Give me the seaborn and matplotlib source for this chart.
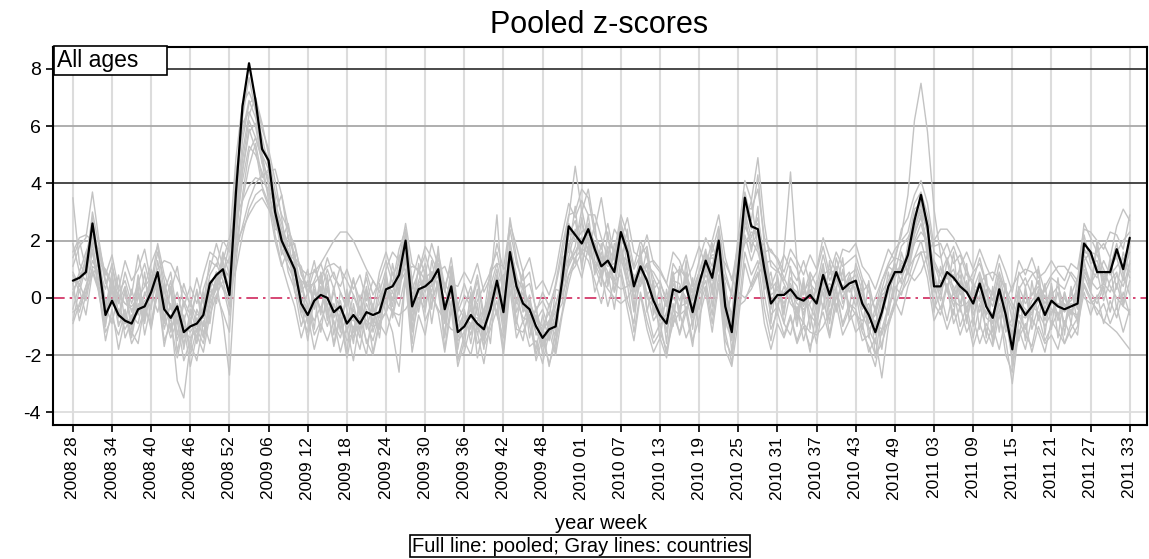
import numpy as np
import pandas as pd
import seaborn as sns
import matplotlib.pyplot as plt

# labels every 6 weeks, 2008 week 28 .. 2011 week 33 (163 weeks)
tick_labels = ['2008 28', '2008 34', '2008 40', '2008 46', '2008 52',
               '2009 06', '2009 12', '2009 18', '2009 24', '2009 30', '2009 36', '2009 42', '2009 48',
               '2010 01', '2010 07', '2010 13', '2010 19', '2010 25', '2010 31', '2010 37', '2010 43', '2010 49',
               '2011 03', '2011 09', '2011 15', '2011 21', '2011 27', '2011 33']

pooled = [0.6, 0.7, 0.9, 2.6, 1.1, -0.6, -0.1, -0.6, -0.8, -0.9,
          -0.4, -0.3, 0.2, 0.9, -0.4, -0.7, -0.3, -1.2, -1.0, -0.9,
          -0.6, 0.5, 0.8, 1.0, 0.1, 3.7, 6.7, 8.2, 6.9, 5.2,
          4.8, 3.0, 2.0, 1.5, 1.0, -0.2, -0.6, -0.1, 0.1, 0.0,
          -0.5, -0.3, -0.9, -0.6, -0.9, -0.5, -0.6, -0.5, 0.3, 0.4,
          0.8, 2.0, -0.3, 0.3, 0.4, 0.6, 1.0, -0.4, 0.4, -1.2,
          -1.0, -0.6, -0.9, -1.1, -0.4, 0.6, -0.5, 1.6, 0.4, -0.2,
          -0.4, -1.0, -1.4, -1.1, -1.0, 0.6, 2.5, 2.2, 1.9, 2.4,
          1.7, 1.1, 1.3, 0.9, 2.3, 1.6, 0.4, 1.1, 0.6, -0.1,
          -0.6, -0.9, 0.3, 0.2, 0.4, -0.5, 0.5, 1.3, 0.7, 2.0,
          -0.3, -1.2, 1.0, 3.5, 2.5, 2.4, 1.0, -0.2, 0.1, 0.1,
          0.3, 0.0, -0.1, 0.1, -0.2, 0.8, 0.1, 0.9, 0.3, 0.5,
          0.6, -0.2, -0.6, -1.2, -0.5, 0.4, 0.9, 0.9, 1.5, 2.7,
          3.6, 2.5, 0.4, 0.4, 0.9, 0.7, 0.4, 0.2, -0.2, 0.5,
          -0.3, -0.7, 0.3, -0.6, -1.8, -0.2, -0.6, -0.3, 0.0, -0.6,
          -0.1, -0.3, -0.4, -0.3, -0.2, 1.9, 1.6, 0.9, 0.9, 0.9,
          1.7, 1.0, 2.1]

country_a = [0.2, -0.5, 0.4, 1.3, 0.8, -0.9, 0.3, -1.0, -0.4, -1.3,
             0.1, -0.8, 0.6, 0.4, -1.1, -0.2, -1.5, -0.6, -1.8, -0.4,
             -1.0, 0.2, 0.3, 1.5, 1.2, 2.6, 4.1, 5.3, 5.0, 4.4,
             3.6, 2.9, 1.5, 2.2, 0.4, 0.6, -0.9, 0.5, -0.6, 0.8,
             -1.3, 0.2, -0.4, -1.6, 0.1, -1.1, -0.2, -1.4, 0.6, -0.3,
             1.5, 0.9, -0.8, 1.2, -0.5, 1.3, 0.2, -1.3, 0.9, -1.8,
             -0.4, -1.6, -0.2, -1.8, 0.6, -0.6, 0.8, 0.9, -0.9, 0.5,
             -1.4, -0.3, -2.0, -0.8, -1.9, 1.4, 1.6, 3.2, 1.0, 2.6,
             0.8, 1.9, 0.4, 1.7, 1.2, 2.4, -0.4, 1.8, -0.5, 0.6,
             -1.5, 0.3, -1.0, 1.1, -0.6, 0.7, -1.2, 1.5, 0.1, 1.1,
             -1.1, 0.3, 1.8, 2.6, 3.4, 1.7, 1.9, -0.9, 0.8, -0.6,
             1.1, -0.8, 0.7, -1.1, 0.6, -0.4, 1.3, -0.5, 1.0, -0.4,
             1.2, 0.5, -1.4, -0.3, -1.8, -0.2, 1.4, 2.2, 3.6, 6.2,
             7.5, 5.8, 3.1, 1.5, 0.2, 1.6, -0.5, 1.2, -1.0, 0.8,
             -1.4, 0.4, -1.2, 0.5, -2.4, 0.3, -1.5, 0.6, -0.8, 0.5,
             -1.1, 0.7, -1.3, 0.4, -0.9, 1.3, 0.2, 1.8, 0.1, 1.4,
             0.3, 1.6, 0.9]

country_b = [1.9, 0.9, 1.6, 2.2, 1.0, 0.3, 1.2, -0.2, 0.9, 0.1,
             1.5, 0.4, 1.2, 1.8, 0.2, 0.9, -0.6, 0.5, -0.3, 0.7,
             -0.2, 1.3, 1.1, 2.0, 1.6, 3.1, 4.8, 6.2, 5.6, 4.9,
             4.0, 3.3, 2.6, 1.8, 1.9, 0.8, 0.4, 1.3, 0.2, 1.0,
             0.3, 1.1, -0.2, 0.7, -0.5, 0.9, 0.1, 0.6, 1.3, 0.5,
             1.7, 2.4, 0.6, 1.5, 0.8, 1.9, 1.1, 0.2, 1.4, -0.3,
             0.5, -0.2, 0.8, -0.6, 1.0, 1.6, 0.4, 2.4, 1.2, 0.6,
             0.9, -0.5, 0.2, -0.3, 0.4, 1.5, 2.8, 4.6, 3.0, 3.8,
             2.4, 3.5, 2.0, 1.6, 2.9, 2.2, 1.1, 2.0, 1.4, 0.7,
             0.2, -0.3, 1.2, 0.8, 1.5, 0.4, 1.3, 2.1, 1.6, 2.5,
             0.9, 0.1, 2.2, 4.1, 3.4, 4.9, 2.6, 1.1, 0.9, 1.5,
             1.0, 0.6, 1.3, 0.5, 0.9, 1.8, 0.8, 1.6, 1.1, 1.3,
             1.5, 0.7, 0.2, -0.4, 0.6, 1.2, 1.7, 2.0, 2.3, 3.3,
             3.7, 2.9, 1.6, 1.4, 1.9, 1.2, 1.5, 0.8, 0.6, 1.4,
             0.5, 0.1, 1.2, 0.3, -0.8, 0.9, 0.4, 0.8, 1.0, 0.2,
             0.7, 0.5, 0.3, 0.9, 0.6, 2.6, 2.1, 1.6, 1.9, 1.4,
             2.5, 3.1, 2.7]

country_c = [-0.5, -0.3, 0.2, 0.8, 1.2, 1.0, 0.5, 0.1, -0.2, -0.4,
             -0.3, 0.1, 0.6, 1.0, 1.3, 1.2, 0.7, 0.2, -0.2, -0.6,
             -0.5, 0.0, 0.5, 0.9, 1.4, 1.9, 2.4, 2.9, 3.3, 3.5,
             3.1, 2.6, 2.0, 1.6, 1.3, 1.0, 0.8, 0.9, 1.2, 1.6,
             2.0, 2.3, 2.3, 2.0, 1.5, 1.0, 0.6, 0.2, -0.2, -0.5,
             -0.6, -0.4, 0.0, 0.4, 0.7, 0.9, 0.8, 0.5, 0.1, -0.3,
             -0.7, -0.9, -0.8, -0.4, 0.1, 0.5, 0.8, 0.9, 0.7, 0.3,
             -0.2, -0.7, -1.0, -0.9, -0.5, 0.1, 0.8, 1.4, 1.7, 1.6,
             1.2, 0.7, 0.3, 0.0, -0.2, 0.0, 0.4, 0.9, 1.2, 1.3,
             1.0, 0.5, 0.0, -0.3, -0.2, 0.3, 0.9, 1.3, 1.4, 1.2,
             0.7, 0.1, -0.3, -0.1, 0.5, 1.1, 1.6, 1.7, 1.3, 0.7,
             0.2, -0.2, -0.4, -0.2, 0.3, 0.8, 1.0, 0.8, 0.3, -0.2,
             -0.6, -0.8, -0.5, 0.0, 0.6, 1.1, 1.4, 1.3, 0.9, 0.6,
             0.9, 1.5, 2.0, 2.4, 2.4, 2.1, 1.6, 1.0, 0.4, -0.1,
             -0.5, -0.7, -0.5, -0.1, 0.4, 0.8, 1.0, 0.9, 0.5, 0.0,
             -0.4, -0.6, -0.4, 0.1, 0.7, 1.3, 1.6, 1.5, 1.0, 0.4,
             0.0, -0.3, -0.5]

country_d = [3.5, 1.2, 0.8, 1.9, 0.6, -0.4, 0.9, -0.7, 0.2, -1.1,
             0.6, -0.5, 1.0, 0.3, -0.8, 0.4, -1.3, -0.2, -0.9, 0.3,
             -1.3, -0.1, 0.7, 0.4, -0.6, 1.8, 3.4, 4.6, 5.4, 4.2,
             4.5, 3.0, 3.6, 2.1, 1.5, 0.3, 1.0, -0.4, 0.7, -0.8,
             0.4, -1.2, 0.3, -0.7, -1.4, 0.2, -0.9, 0.5, -0.6, 1.2,
             0.1, 1.6, -1.1, 0.6, 1.2, -0.4, 1.8, -0.8, 0.7, -0.6,
             -1.7, 0.2, -1.3, -0.4, -1.6, 0.8, -0.8, 1.2, -0.2, 0.9,
             -1.0, -1.8, -0.6, -1.5, 0.3, 0.2, 1.9, 1.2, 2.8, 1.5,
             2.6, 0.6, 1.7, 0.2, 1.8, 0.9, -0.5, 0.6, 1.7, -0.6,
             0.4, -1.6, 0.9, -0.8, 1.3, -1.1, 0.8, 0.2, 1.9, 1.0,
             0.5, -1.9, 0.4, 2.9, 1.6, 3.2, 0.3, 0.9, -0.6, 1.6,
             4.4, 1.2, -0.9, 0.8, -1.2, 1.1, -0.6, 0.3, 1.4, -0.8,
             0.2, -1.1, 0.6, -2.1, -0.4, 0.9, -0.2, 1.6, 0.8, 2.0,
             2.6, 1.7, -0.5, 1.1, 0.3, -0.6, 1.2, -0.9, 0.6, -1.1,
             0.8, -1.6, 0.1, -1.2, -0.7, -1.5, 0.4, -0.9, 1.1, -1.3,
             0.5, -1.4, 0.2, -0.9, 0.7, 1.0, 0.4, 2.0, 0.6, 1.1,
             -0.4, 0.8, 0.1]

country_e = [1.1, 1.8, 2.1, 3.7, 2.0, 0.6, -0.2, 0.8, -0.9, 0.3,
             -0.6, 0.9, -1.0, 0.2, -1.7, -0.6, -2.9, -3.5, -1.6, -2.2,
             -0.8, -1.6, 0.1, 0.6, -0.3, 2.3, 5.1, 6.4, 7.0, 5.9,
             5.2, 4.1, 2.8, 1.3, 1.6, -0.5, 0.2, -1.1, 0.9, -0.4,
             -1.6, -0.5, -1.9, -0.2, -1.2, -2.0, -0.3, -1.1, 0.8, -0.7,
             0.4, 1.3, -1.2, -0.2, 0.9, -0.9, 0.6, -1.8, -0.1, -2.2,
             -1.3, 0.1, -2.1, -1.0, 0.2, -0.6, -1.4, 0.9, -0.8, -1.5,
             -0.2, -2.0, -1.1, -2.4, -1.2, 0.4, 1.2, 1.8, 3.1, 2.0,
             1.1, 0.4, 2.3, 0.2, 1.0, -0.1, -0.9, 1.1, -0.4, -1.4,
             -0.9, -2.0, -0.2, -1.3, -0.5, -1.7, 0.1, 0.6, -0.6, 1.4,
             -1.2, -2.3, 0.2, 2.2, 1.3, 2.0, 0.1, -1.1, -0.5, -1.3,
             -0.6, -1.5, -0.8, -1.9, -0.4, 0.2, -1.3, 0.1, -0.9, -0.2,
             -0.4, -1.2, -1.7, -2.4, -1.1, -0.3, 0.4, 0.1, 1.0, 2.2,
             2.9, 1.8, -0.4, 0.2, -0.8, 0.3, -1.0, -0.3, -1.4, -0.2,
             -1.1, -1.7, -0.6, -1.5, -3.0, -1.1, -1.8, -0.7, -1.2, -1.9,
             -0.8, -1.2, -1.6, -0.9, -1.3, 0.8, 0.2, -0.2, 0.4, -0.5,
             0.5, -0.3, 0.6]

country_f = [0.3, 0.6, 1.4, 2.4, 1.5, -0.2, 0.4, -0.5, -1.1, -0.6,
             -0.9, 0.2, -0.4, 1.3, 0.0, -1.1, -0.6, -1.6, -0.8, -1.4,
             -0.3, 0.8, 1.2, 0.6, 0.4, 3.9, 6.1, 6.5, 6.0, 4.7,
             4.2, 3.5, 1.7, 1.1, 0.6, -0.6, -1.2, 0.3, -0.5, 0.4,
             -0.9, -1.4, -0.5, -1.1, -0.3, -1.6, -1.0, 0.1, -0.2, 0.9,
             0.2, 1.9, 0.6, -0.5, 0.8, 0.2, 1.4, 0.3, -0.4, -1.0,
             -0.6, -1.3, -0.3, -1.5, -0.9, 0.3, -1.2, 1.8, 0.8, -0.5,
             0.1, -1.3, -1.0, -0.5, -1.6, 1.0, 2.2, 2.7, 1.5, 2.9,
             1.3, 0.9, 1.8, 1.3, 2.7, 1.0, 0.8, 0.4, 1.2, -0.5,
             -0.2, -1.2, 0.6, 0.5, -0.2, 0.1, 0.9, 1.7, 0.2, 2.4,
             0.3, -0.8, 1.4, 3.0, 2.1, 2.8, 1.4, 0.3, 0.6, -0.4,
             0.7, 0.4, -0.6, 0.5, 0.2, 1.2, -0.3, 1.4, 0.6, 0.9,
             0.1, 0.3, -0.9, -0.6, 0.2, 0.6, 1.2, 0.5, 1.9, 3.1,
             3.3, 2.2, 0.9, -0.1, 1.3, 0.2, 0.8, -0.4, 0.3, 0.9,
             0.1, -0.3, 0.8, -0.2, -1.5, 0.4, -0.2, 0.1, 0.6, -0.4,
             0.4, -0.8, 0.2, -0.6, 0.3, 2.2, 1.2, 1.3, 0.5, 1.2,
             1.4, 0.6, 1.8]

country_g = [-0.9, -0.2, 0.4, 1.0, 0.3, -1.2, -0.7, -1.3, -0.5, -1.6,
             -1.1, -0.4, -0.9, 0.5, -0.6, -1.4, -0.8, -2.2, -1.5, -0.7,
             -1.4, -0.2, 0.3, 0.9, 0.8, 1.6, 2.5, 3.4, 4.0, 4.3,
             4.4, 4.5, 3.6, 2.5, 1.2, 0.5, -0.3, -0.8, -0.3, -1.0,
             -0.2, -0.8, -1.5, -1.2, -0.5, -0.9, -1.5, -0.6, -0.1, 0.2,
             -0.3, 0.8, -0.7, 0.0, -0.4, 0.9, 0.4, -0.9, 0.3, -1.4,
             -0.8, -0.4, -1.6, -1.3, -0.2, 0.2, -0.9, 1.1, -0.1, -0.7,
             -0.8, -0.6, -1.7, -1.3, -0.6, -0.2, 1.3, 1.6, 2.1, 1.7,
             1.9, 1.3, 0.7, 1.1, 1.5, 1.3, 0.0, 0.7, 0.2, -0.8,
             -0.4, -1.1, -0.5, 0.4, 0.0, -0.9, 0.2, 0.8, 0.4, 1.2,
             -0.6, -1.4, 0.6, 2.5, 2.0, 1.6, 0.7, -0.6, -0.3, 0.4,
             -0.2, -0.5, 0.4, -0.6, -0.9, 0.3, 0.5, 0.2, -0.4, 0.7,
             0.3, -0.6, -1.1, -0.8, -1.3, -0.4, 0.3, 0.7, 1.2, 1.9,
             2.3, 2.0, 1.2, 0.5, 0.7, 0.4, -0.2, 0.6, -0.6, 0.1,
             -0.7, -0.9, -0.2, -1.0, -1.3, -0.6, -1.1, -0.3, -0.5, -1.0,
             -0.5, -0.2, -0.9, -0.4, -0.8, 0.9, 0.6, 0.3, 0.5, 0.2,
             0.8, 0.4, 1.2]

country_h = [0.8, 0.2, 1.1, 1.6, 0.4, -0.3, -0.9, 0.2, -1.4, -0.8,
             0.4, -1.3, -0.2, 0.7, -0.9, 0.3, -1.9, -0.7, -2.0, -1.1,
             -1.6, -0.4, 0.5, -0.8, -2.7, 1.2, 3.6, 5.1, 5.6, 4.8,
             3.4, 2.4, 2.3, 0.9, 0.3, -1.0, -0.2, -1.3, -0.8, -0.2,
             -1.7, -0.7, -2.1, -1.0, -1.8, -0.4, -1.9, -0.8, -0.5, -1.2,
             -2.6, 1.0, -1.6, 0.4, -0.8, -0.2, 0.6, -1.4, 0.5, -2.1,
             -1.9, -0.9, -1.2, -2.3, -0.8, -0.1, -1.8, 0.6, -1.1, -1.2,
             -0.6, -2.2, -1.4, -2.3, -1.6, -0.5, 0.8, 1.1, 1.6, 1.3,
             0.6, -0.2, 0.9, -0.4, 1.4, 0.5, -1.2, 0.2, -0.8, -1.6,
             -1.2, -1.8, -0.9, -0.5, -1.4, -0.8, -0.3, 0.4, -0.9, 0.8,
             -1.5, -2.0, -0.4, 1.6, 0.8, 1.3, -0.4, -1.5, -0.2, -0.9,
             -1.3, -0.3, -1.5, -0.6, -1.6, -0.2, -0.8, 0.4, -1.0, -0.4,
             -1.2, -0.9, -1.9, -1.4, -2.8, -1.0, -0.2, 0.2, 0.6, 1.4,
             2.0, 1.1, -0.2, -0.6, 0.4, -0.9, -0.3, -1.2, -0.7, -1.6,
             -0.9, -1.4, -0.4, -2.0, -2.6, -0.8, -1.3, -1.7, -0.6, -1.5,
             -1.0, -0.5, -1.6, -1.1, -0.7, 0.5, 0.0, -0.6, -0.2, -0.9,
             -0.3, -1.2, -0.4]

country_i = [0.1, 0.9, 0.6, 2.0, 1.7, 0.5, 1.1, 0.2, 0.6, -0.2,
             0.5, 1.2, 0.3, 1.6, 0.6, -0.4, 0.2, -0.8, -0.1, -1.0,
             0.3, 1.0, 1.9, 1.1, 0.7, 3.0, 5.5, 6.8, 7.0, 6.1,
             5.0, 3.7, 2.9, 2.4, 1.8, 0.9, 0.1, 0.6, 1.2, 0.5,
             0.9, 0.2, -0.3, 0.6, -0.1, 0.7, -0.4, 0.9, 1.6, 0.8,
             1.2, 2.2, 0.3, 0.9, 1.5, 0.7, 1.6, 0.4, 1.1, -0.5,
             0.1, -0.3, 0.6, -0.8, 0.4, 1.2, 0.2, 2.8, 1.4, 0.3,
             0.5, -0.4, -0.1, -0.6, 0.5, 1.8, 2.9, 3.0, 3.8, 3.5,
             2.2, 1.7, 2.6, 1.4, 2.6, 1.8, 1.0, 1.5, 1.8, 0.3,
             0.6, -0.2, 0.8, 1.0, 0.7, -0.1, 0.9, 1.6, 1.1, 2.2,
             0.2, -0.6, 1.7, 3.7, 2.7, 4.3, 1.8, 0.4, 1.0, 0.6,
             1.4, 1.0, 0.1, 0.9, 0.4, 1.5, 0.6, 1.1, 0.2, 0.8,
             1.0, 0.2, 0.5, -0.5, 0.3, 1.1, 0.9, 1.8, 2.1, 2.6,
             3.0, 2.4, 1.1, 0.8, 1.4, 0.6, 1.0, 0.4, 0.9, 1.2,
             0.5, -0.1, 0.9, 0.2, -0.4, 0.3, 0.7, 0.1, 0.4, -0.2,
             0.2, -0.3, 0.0, -0.5, -0.6, 0.4, -0.1, -0.4, -0.8, -1.0,
             -1.2, -1.5, -1.8]

country_j = [-0.4, 0.5, -0.1, 1.1, 0.9, -0.7, 0.6, -0.2, 0.4, -0.5,
             0.2, -0.6, 0.8, 0.1, -0.3, 0.6, -0.9, -0.1, -0.6, 0.2,
             -0.7, 0.4, -0.2, 1.3, 0.2, 1.0, 2.2, 3.1, 3.6, 3.8,
             3.2, 2.7, 2.2, 1.7, 0.8, 0.2, 0.6, -0.3, 0.4, -0.6,
             0.2, -0.4, -0.9, 0.1, -0.6, 0.3, -0.5, -0.2, 0.7, -0.1,
             0.6, 1.4, 0.2, -0.3, 1.0, 0.0, 0.5, -0.6, 0.9, -0.8,
             -0.3, 0.4, -0.6, -0.9, 0.5, 2.9, -0.2, 1.3, 0.3, -0.9,
             -0.1, -0.8, -0.4, -1.1, -0.3, 0.7, 1.4, 2.4, 1.2, 2.1,
             1.6, 0.8, 1.4, 0.6, 1.9, 0.4, 0.6, 1.3, 0.1, 0.4,
             -0.6, -0.2, 0.3, -0.4, 0.8, 0.2, -0.4, 1.0, 0.6, 1.6,
             -0.2, -0.9, 1.1, 1.9, 2.3, 2.2, 0.9, -0.2, 0.4, 0.1,
             0.5, -0.1, 0.2, 0.6, -0.4, 0.7, 0.0, 0.6, 0.9, 0.2,
             0.6, -0.4, -0.2, -1.0, 0.1, 0.3, 0.8, 1.2, 1.4, 2.3,
             2.8, 1.9, 0.6, 0.2, 0.8, 0.1, 0.3, -0.5, 0.5, 0.2,
             -0.6, 0.3, -0.4, -0.8, -1.0, 0.1, -0.7, -0.1, 0.2, -0.6,
             0.1, 0.4, -0.3, -0.1, 0.3, 1.5, 1.0, 0.7, 1.3, 0.8,
             1.1, 1.4, 0.7]

country_k = [1.6, 2.1, 2.2, 2.0, 1.5, 0.9, 0.4, 0.1, -0.2, -0.3,
             0.0, 0.4, 0.7, 0.6, 0.2, -0.3, -0.8, -1.2, -1.4, -1.1,
             -0.6, 0.0, 0.6, 1.3, 2.1, 2.8, 3.4, 3.9, 4.2, 4.1,
             3.8, 3.2, 2.4, 1.6, 1.0, 0.6, 0.4, 0.5, 0.8, 1.1,
             1.2, 1.0, 0.6, 0.1, -0.4, -0.8, -1.0, -0.9, -0.5, 0.0,
             0.5, 0.9, 1.1, 1.0, 0.6, 0.1, -0.4, -0.8, -1.1, -1.2,
             -1.0, -0.6, -0.1, 0.4, 0.9, 1.2, 1.1, 0.7, 0.2, -0.3,
             -0.7, -1.0, -1.1, -0.8, -0.2, 0.5, 1.1, 1.6, 1.9, 2.0,
             1.8, 1.4, 0.9, 0.5, 0.3, 0.4, 0.7, 1.0, 1.1, 0.9,
             0.5, 0.0, -0.4, -0.6, -0.4, 0.0, 0.6, 1.2, 1.5, 1.5,
             1.2, 0.7, 0.2, 0.0, 0.3, 0.8, 1.2, 1.3, 1.0, 0.5,
             0.0, -0.5, -0.9, -1.2, -1.3, -1.0, -0.5, 0.0, 0.4, 0.6,
             0.5, 0.1, -0.4, -0.9, -1.1, -0.9, -0.3, 0.4, 1.0, 1.4,
             1.6, 1.6, 1.3, 0.8, 0.3, -0.1, -0.3, -0.2, 0.1, 0.5,
             0.8, 0.9, 0.7, 0.3, -0.2, -0.6, -0.7, -0.5, -0.1, 0.4,
             0.8, 1.1, 1.1, 0.8, 0.4, 0.0, -0.2, 0.0, 0.5, 1.1,
             1.6, 2.0, 2.3]

country_l = [0.9, 0.4, 1.3, 2.8, 1.3, -0.5, 0.3, -0.9, -0.6, -1.4,
             -0.2, -0.9, 0.4, 0.8, -0.7, -0.3, -0.5, -1.4, -0.7, -1.6,
             -0.4, 0.6, 0.3, 1.6, 0.8, 4.4, 5.8, 6.9, 6.3, 5.3,
             4.9, 2.6, 1.9, 1.3, 0.9, -0.3, -0.8, 0.2, -0.4, 0.6,
             -0.7, -0.1, -1.2, -0.4, -1.1, -0.2, -0.8, -1.0, 0.5, 0.2,
             1.0, 2.3, -0.5, 0.6, 0.2, 0.9, 0.7, -0.2, 0.2, -1.5,
             -1.2, -0.3, -1.1, -0.7, -0.1, 0.8, -0.3, 2.0, 0.6, -0.4,
             -0.6, -1.2, -1.6, -0.9, -1.3, 0.9, 2.6, 2.0, 2.3, 2.5,
             1.9, 1.4, 1.1, 1.2, 2.5, 1.7, 0.2, 1.3, 0.9, 0.2,
             -0.8, -0.6, 0.5, -0.1, 0.6, -0.3, 0.3, 1.5, 0.9, 1.8,
             -0.5, -1.0, 1.3, 3.3, 2.4, 2.6, 1.2, 0.1, 0.3, -0.2,
             0.4, 0.2, -0.3, 0.3, -0.5, 0.9, 0.3, 0.7, 0.0, 0.6,
             0.8, -0.3, -0.4, -1.3, -0.7, 0.5, 1.1, 0.8, 1.7, 2.9,
             3.4, 2.6, 0.2, 0.6, 0.7, 1.0, 0.1, 0.4, -0.4, 0.7,
             -0.1, -0.9, 0.5, -0.5, -1.9, -0.1, -0.4, -0.6, 0.3, -0.8,
             0.0, -0.6, -0.2, -0.5, 0.1, 1.7, 1.4, 1.1, 0.7, 1.1,
             1.9, 0.8, 1.6]

country_m = [-0.8, 0.3, -0.6, 0.9, 0.2, -1.5, -0.4, -1.8, -0.7, -1.2,
             -1.6, -0.2, -1.1, 0.3, -1.5, -0.9, -2.1, -1.0, -2.4, -1.3,
             -1.9, -0.6, 0.1, -0.5, -1.2, 2.0, 4.4, 5.8, 6.1, 5.0,
             3.9, 2.2, 1.2, 0.4, -0.3, -1.4, -0.6, -1.8, -0.9, -1.5,
             -0.8, -1.9, -1.0, -2.2, -0.7, -1.5, -2.0, -0.9, -1.3, -0.4,
             -1.0, 0.6, -1.9, -0.6, -1.3, 0.1, -0.5, -1.9, -0.4, -2.4,
             -1.5, -2.0, -0.9, -1.7, -1.1, -0.4, -2.0, 0.3, -1.4, -0.8,
             -1.7, -1.5, -2.3, -1.2, -2.0, -0.6, 0.5, 1.4, 0.7, 1.8,
             0.2, 0.9, -0.3, 0.6, 0.8, -0.4, -1.5, 0.1, -1.1, -1.9,
             -1.4, -2.1, -0.6, -1.2, -0.3, -1.5, -0.7, 0.2, -1.2, 0.5,
             -1.8, -2.4, -0.8, 1.2, 0.4, 0.9, -0.9, -1.8, -0.9, -1.4,
             -0.7, -1.6, -1.0, -1.7, -1.1, -0.5, -1.4, -0.2, -1.3, -0.8,
             -0.5, -1.5, -1.3, -2.0, -1.6, -0.8, -0.1, -0.6, 0.4, 1.0,
             1.6, 0.7, -0.8, -0.3, -1.1, -0.4, -1.3, -0.6, -1.7, -0.9,
             -1.6, -1.0, -1.8, -0.7, -2.2, -1.4, -0.9, -1.9, -1.0, -1.6,
             -1.3, -1.8, -0.8, -1.4, -1.0, 0.2, -0.6, 0.1, -0.9, -0.1,
             -0.7, 0.2, -0.6]

country_n = [1.4, 2.0, 1.0, 3.0, 1.8, 0.8, 1.5, 0.3, 1.3, 0.6,
             1.0, 1.7, 0.5, 1.9, 0.8, 0.2, 1.1, -0.3, 0.4, -0.2,
             0.8, 1.6, 1.4, 0.8, 1.9, 4.9, 6.8, 7.2, 6.6, 5.6,
             4.6, 3.4, 2.0, 2.6, 1.4, 1.1, 0.2, 1.0, 0.5, 1.4,
             0.7, 0.4, 1.0, 0.3, 0.8, -0.1, 0.6, 0.2, 1.0, 1.6,
             1.3, 2.6, 1.2, 0.9, 1.8, 1.4, 0.9, 1.1, 0.5, 0.4,
             0.9, 0.5, 1.2, 0.2, 0.7, 1.9, 1.0, 2.6, 1.8, 0.9,
             1.4, 0.3, 0.6, 0.1, 0.9, 2.2, 3.3, 2.8, 3.4, 2.9,
             2.9, 2.1, 1.4, 2.4, 2.0, 2.8, 1.6, 1.4, 2.2, 1.2,
             0.9, 0.5, 1.6, 1.3, 0.6, 1.1, 1.8, 1.1, 2.0, 2.9,
             1.4, 0.6, 1.9, 3.2, 3.1, 3.8, 2.1, 1.6, 1.4, 0.9,
             1.7, 1.3, 0.8, 1.5, 1.0, 2.1, 1.4, 0.9, 1.7, 1.6,
             1.9, 1.1, 0.8, 0.3, 1.0, 1.7, 1.3, 2.4, 2.8, 3.6,
             4.1, 3.3, 1.8, 1.9, 1.3, 1.8, 1.1, 1.6, 1.0, 1.7,
             1.1, 0.6, 1.5, 0.9, 0.2, 1.3, 0.8, 1.4, 0.7, 0.9,
             1.3, 0.9, 0.6, 1.2, 1.0, 2.4, 2.3, 2.0, 1.7, 2.3,
             2.2, 1.7, 2.9]

country_o = [0.5, -0.8, 0.1, 1.7, 0.1, -1.0, 0.7, -0.6, 0.3, -0.9,
             0.8, -0.7, 0.2, -0.5, 0.5, -1.2, -0.2, -1.8, -0.4, -1.2,
             0.2, -0.9, 0.9, 0.3, 0.0, 2.8, 4.5, 5.9, 5.2, 3.9,
             3.3, 2.0, 1.1, 1.7, 0.2, -0.2, -1.5, 0.0, -1.2, 0.3,
             -0.4, -1.1, 0.2, -1.4, -0.8, 0.4, -1.2, -0.4, 0.9, -0.6,
             0.9, 1.5, -0.1, 1.0, -0.2, 0.5, 1.2, -0.7, 1.1, -1.1,
             -0.5, -1.1, 0.3, -1.4, 0.1, 1.0, -0.7, 1.6, -0.5, 0.2,
             -0.9, -0.4, -1.3, -0.2, -1.2, 1.1, 1.8, 2.3, 2.6, 1.9,
             1.0, 1.6, 0.5, 1.9, 1.6, 0.7, 0.2, 1.5, 0.0, -0.3,
             -1.0, -0.5, 0.9, -0.6, 0.9, -0.7, 0.6, 1.2, -0.3, 1.8,
             -0.8, -1.5, 0.8, 2.7, 1.8, 2.3, 0.6, -0.4, 0.7, -0.9,
             0.2, -1.0, 0.5, -0.3, -0.8, 0.6, -0.9, 1.0, -0.2, 0.4,
             -0.3, 0.6, -1.1, -1.6, 0.0, -0.6, 0.7, 1.1, 1.3, 2.4,
             3.1, 1.4, 0.4, -0.4, 0.5, -0.3, 0.6, -0.8, 0.2, -0.5,
             0.3, -1.2, 0.6, -0.9, -1.2, -0.5, 0.2, -1.1, -0.3, 0.1,
             -0.6, 0.2, -1.0, 0.2, -0.4, 1.2, 0.5, 0.9, -0.1, 0.6,
             0.9, -0.2, 1.3]

country_p = [0.5, 0.8, 1.0, 2.2, 1.3, -0.3, -0.2, -0.4, -0.9, -0.7,
             -0.5, -0.1, 0.1, 0.7, -0.2, -0.8, -0.4, -1.0, -1.2, -0.8,
             -0.7, 0.3, 0.9, 0.8, 0.3, 3.3, 6.3, 7.7, 6.5, 5.0,
             4.5, 3.2, 2.2, 1.4, 1.2, 0.0, -0.4, -0.3, 0.2, -0.2,
             -0.3, -0.5, -0.7, -0.8, -0.7, -0.6, -0.4, -0.7, 0.1, 0.5,
             0.6, 1.8, -0.1, 0.2, 0.5, 0.4, 0.8, -0.2, 0.3, -1.0,
             -0.8, -0.7, -0.7, -1.2, -0.5, 0.4, -0.3, 1.4, 0.5, -0.1,
             -0.5, -0.8, -1.2, -1.2, -0.8, 0.4, 2.2, 2.3, 2.0, 2.2,
             1.9, 1.2, 1.2, 1.0, 2.0, 1.7, 0.6, 1.0, 0.7, 0.1,
             -0.4, -0.8, 0.1, 0.3, 0.3, -0.3, 0.4, 1.1, 0.8, 1.8,
             -0.1, -1.0, 0.8, 3.1, 2.6, 2.2, 1.1, 0.0, 0.0, 0.2,
             0.4, 0.1, -0.2, 0.2, -0.1, 0.6, 0.2, 0.8, 0.4, 0.4,
             0.5, -0.1, -0.5, -1.0, -0.6, 0.2, 0.8, 1.0, 1.3, 2.4,
             3.3, 2.6, 0.6, 0.3, 0.8, 0.8, 0.3, 0.3, -0.1, 0.4,
             -0.2, -0.6, 0.2, -0.4, -1.6, -0.3, -0.5, -0.4, 0.1, -0.5,
             -0.2, -0.2, -0.5, -0.2, -0.3, 1.6, 1.5, 1.0, 0.8, 1.0,
             1.5, 1.1, 1.9]

countries = {'A': country_a, 'B': country_b, 'C': country_c, 'D': country_d,
             'E': country_e, 'F': country_f, 'G': country_g, 'H': country_h,
             'I': country_i, 'J': country_j, 'K': country_k, 'L': country_l,
             'M': country_m, 'N': country_n, 'O': country_o, 'P': country_p}

weeks = np.arange(len(pooled))
df_c = pd.concat([pd.DataFrame({'week': weeks, 'z': v, 'country': k})
                  for k, v in countries.items()], ignore_index=True)
df_p = pd.DataFrame({'week': weeks, 'z': pooled})

sns.set_style('white')
plt.rcParams['font.family'] = ['Liberation Sans', 'DejaVu Sans']
plt.rcParams['text.color'] = 'black'
plt.rcParams['xtick.color'] = 'black'
plt.rcParams['ytick.color'] = 'black'

figure = plt.figure(figsize=(11.49, 5.59), dpi=100)
axis = figure.add_axes([0.046, 0.240, 0.952, 0.676])

# grid first
for i in range(0, len(weeks), 6):
    axis.axvline(i, color='#dcdcdc', lw=1.5, zorder=0.5)
for yv, col in [(8, '#3a3a3a'), (4, '#3a3a3a'), (6, '#a8a8a8'), (2, '#a8a8a8'),
                (-2, '#a8a8a8'), (-4, '#dddddd')]:
    axis.axhline(yv, color=col, lw=1.3, zorder=0.6)
axis.axhline(0, color='#d0285c', lw=1.2, ls=(0, (7, 3, 1.5, 3)), zorder=0.7)

sns.lineplot(data=df_c, x='week', y='z', units='country', estimator=None,
             color='#c3c3c3', lw=1.0, ax=axis, legend=False, zorder=2)
sns.lineplot(data=df_p, x='week', y='z', color='black', lw=1.6, ax=axis, zorder=3)

axis.set_xlim(-3.07, 164.6)
axis.set_ylim(-4.44, 8.77)
axis.set_xticks(np.arange(0, len(weeks), 6))
axis.set_xticklabels(tick_labels, rotation=90, fontsize=12.5, color='black')
axis.set_yticks([-4, -2, 0, 2, 4, 6, 8])
axis.set_yticklabels(['-4', '-2', '0', '2', '4', '6', '8'], fontsize=14, color='black')
axis.tick_params(axis='both', direction='out', length=5, width=1.2, color='black',
                 bottom=True, left=True)
for sp in axis.spines.values():
    sp.set_color('black')
    sp.set_linewidth(1.5)
axis.set_xlabel('')
axis.set_ylabel('')

axis.text(0.004, 0.995, 'All ages    ', transform=axis.transAxes, fontsize=16.5,
          va='top', ha='left', zorder=5, color='black',
          bbox=dict(boxstyle='square,pad=0.12', fc='white', ec='black', lw=1.2))

figure.text(0.521, 0.955, 'Pooled z-scores', ha='center', va='center', fontsize=22, color='black')
figure.text(0.523, 0.063, 'year week', ha='center', va='center', fontsize=14.5, color='black')
figure.text(0.505, 0.023, 'Full line: pooled; Gray lines: countries', ha='center', va='center',
            fontsize=14.5, color='black',
            bbox=dict(boxstyle='square,pad=0.08', fc='white', ec='black', lw=1.2))

figure.savefig('out.png', dpi=100)
